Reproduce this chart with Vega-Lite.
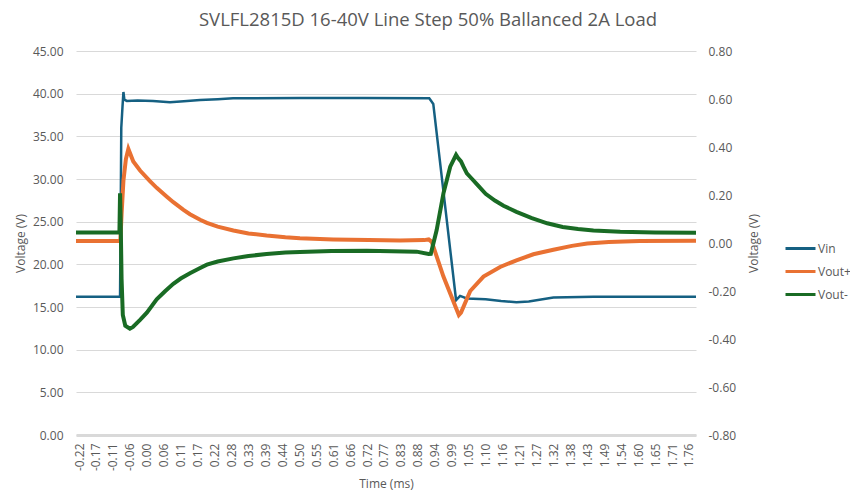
{
  "$schema": "https://vega.github.io/schema/vega-lite/v6.json",
  "autosize": "none",
  "width": 620,
  "height": 384,
  "padding": {"left": 76, "top": 51, "right": 154, "bottom": 57},
  "background": "white",
  "title": {
    "text": "SVLFL2815D 16-40V Line Step 50% Ballanced 2A Load",
    "anchor": "middle",
    "frame": "group",
    "dx": 42,
    "offset": 16,
    "font": "Open Sans",
    "fontSize": 18.5,
    "fontWeight": "normal",
    "color": "#595959"
  },
  "config": {
    "view": {"stroke": null},
    "font": "Open Sans",
    "locale": {
      "number": {"decimal": ".", "thousands": ",", "grouping": [3], "currency": ["$", ""], "minus": "-"}
    },
    "axis": {
      "labelColor": "#595959",
      "labelFont": "Open Sans",
      "labelFontSize": 12,
      "titleColor": "#595959",
      "titleFont": "Open Sans",
      "titleFontSize": 12,
      "titleFontWeight": "normal",
      "ticks": false,
      "domain": false
    },
    "legend": {
      "labelColor": "#595959",
      "labelFont": "Open Sans",
      "labelFontSize": 12
    }
  },
  "datasets": {
    "vin": [
      {"t": -0.23, "s": "Vin", "v": 16.2},
      {"t": -0.15, "s": "Vin", "v": 16.2},
      {"t": -0.087, "s": "Vin", "v": 16.2},
      {"t": -0.085, "s": "Vin", "v": 25},
      {"t": -0.083, "s": "Vin", "v": 36},
      {"t": -0.079, "s": "Vin", "v": 38.5},
      {"t": -0.076, "s": "Vin", "v": 40.2},
      {"t": -0.073, "s": "Vin", "v": 39.3},
      {"t": -0.065, "s": "Vin", "v": 39.15},
      {"t": -0.03, "s": "Vin", "v": 39.2},
      {"t": 0.02, "s": "Vin", "v": 39.15},
      {"t": 0.075, "s": "Vin", "v": 39.0},
      {"t": 0.12, "s": "Vin", "v": 39.1},
      {"t": 0.173, "s": "Vin", "v": 39.25},
      {"t": 0.23, "s": "Vin", "v": 39.35},
      {"t": 0.28, "s": "Vin", "v": 39.45},
      {"t": 0.5, "s": "Vin", "v": 39.48},
      {"t": 0.7, "s": "Vin", "v": 39.48},
      {"t": 0.917, "s": "Vin", "v": 39.45},
      {"t": 0.93, "s": "Vin", "v": 38.8},
      {"t": 1.004, "s": "Vin", "v": 15.8},
      {"t": 1.017, "s": "Vin", "v": 16.3},
      {"t": 1.039, "s": "Vin", "v": 16.0},
      {"t": 1.1, "s": "Vin", "v": 15.9},
      {"t": 1.15, "s": "Vin", "v": 15.7},
      {"t": 1.2, "s": "Vin", "v": 15.55},
      {"t": 1.24, "s": "Vin", "v": 15.65},
      {"t": 1.32, "s": "Vin", "v": 16.1},
      {"t": 1.45, "s": "Vin", "v": 16.2},
      {"t": 1.783, "s": "Vin", "v": 16.2}
    ],
    "vout": [
      {"t": -0.23, "s": "Vout+", "v": 0.008},
      {"t": -0.086, "s": "Vout+", "v": 0.008},
      {"t": -0.082, "s": "Vout+", "v": 0.12},
      {"t": -0.076, "s": "Vout+", "v": 0.26},
      {"t": -0.068, "s": "Vout+", "v": 0.35},
      {"t": -0.06, "s": "Vout+", "v": 0.392},
      {"t": -0.044, "s": "Vout+", "v": 0.34},
      {"t": -0.022, "s": "Vout+", "v": 0.302},
      {"t": 0.01, "s": "Vout+", "v": 0.258},
      {"t": 0.032, "s": "Vout+", "v": 0.23},
      {"t": 0.065, "s": "Vout+", "v": 0.193},
      {"t": 0.086, "s": "Vout+", "v": 0.17},
      {"t": 0.119, "s": "Vout+", "v": 0.138},
      {"t": 0.14, "s": "Vout+", "v": 0.12},
      {"t": 0.173, "s": "Vout+", "v": 0.097},
      {"t": 0.195, "s": "Vout+", "v": 0.084},
      {"t": 0.23, "s": "Vout+", "v": 0.068},
      {"t": 0.281, "s": "Vout+", "v": 0.052},
      {"t": 0.33, "s": "Vout+", "v": 0.04},
      {"t": 0.389, "s": "Vout+", "v": 0.031},
      {"t": 0.45, "s": "Vout+", "v": 0.024},
      {"t": 0.497, "s": "Vout+", "v": 0.02},
      {"t": 0.605, "s": "Vout+", "v": 0.015},
      {"t": 0.72, "s": "Vout+", "v": 0.012},
      {"t": 0.822, "s": "Vout+", "v": 0.01},
      {"t": 0.9, "s": "Vout+", "v": 0.012},
      {"t": 0.915, "s": "Vout+", "v": 0.015},
      {"t": 0.925, "s": "Vout+", "v": 0.005},
      {"t": 0.963, "s": "Vout+", "v": -0.14},
      {"t": 1.013, "s": "Vout+", "v": -0.3},
      {"t": 1.02, "s": "Vout+", "v": -0.29},
      {"t": 1.05, "s": "Vout+", "v": -0.2},
      {"t": 1.093, "s": "Vout+", "v": -0.14},
      {"t": 1.147, "s": "Vout+", "v": -0.1},
      {"t": 1.2, "s": "Vout+", "v": -0.072},
      {"t": 1.255, "s": "Vout+", "v": -0.047},
      {"t": 1.32, "s": "Vout+", "v": -0.028},
      {"t": 1.38, "s": "Vout+", "v": -0.012},
      {"t": 1.43, "s": "Vout+", "v": -0.002},
      {"t": 1.5, "s": "Vout+", "v": 0.004},
      {"t": 1.6, "s": "Vout+", "v": 0.008},
      {"t": 1.783, "s": "Vout+", "v": 0.009},
      {"t": -0.23, "s": "Vout-", "v": 0.044},
      {"t": -0.089, "s": "Vout-", "v": 0.044},
      {"t": -0.087, "s": "Vout-", "v": 0.207},
      {"t": -0.085, "s": "Vout-", "v": 0.1},
      {"t": -0.082, "s": "Vout-", "v": -0.15},
      {"t": -0.078, "s": "Vout-", "v": -0.3},
      {"t": -0.07, "s": "Vout-", "v": -0.345},
      {"t": -0.055, "s": "Vout-", "v": -0.357},
      {"t": -0.045, "s": "Vout-", "v": -0.35},
      {"t": -0.022, "s": "Vout-", "v": -0.32},
      {"t": 0.0, "s": "Vout-", "v": -0.29},
      {"t": 0.032, "s": "Vout-", "v": -0.235},
      {"t": 0.06, "s": "Vout-", "v": -0.2},
      {"t": 0.086, "s": "Vout-", "v": -0.17},
      {"t": 0.11, "s": "Vout-", "v": -0.148},
      {"t": 0.14, "s": "Vout-", "v": -0.126},
      {"t": 0.173, "s": "Vout-", "v": -0.104},
      {"t": 0.195, "s": "Vout-", "v": -0.09},
      {"t": 0.23, "s": "Vout-", "v": -0.077},
      {"t": 0.281, "s": "Vout-", "v": -0.064},
      {"t": 0.33, "s": "Vout-", "v": -0.054},
      {"t": 0.389, "s": "Vout-", "v": -0.046},
      {"t": 0.45, "s": "Vout-", "v": -0.04},
      {"t": 0.497, "s": "Vout-", "v": -0.037},
      {"t": 0.6, "s": "Vout-", "v": -0.033},
      {"t": 0.714, "s": "Vout-", "v": -0.032},
      {"t": 0.876, "s": "Vout-", "v": -0.036},
      {"t": 0.915, "s": "Vout-", "v": -0.046},
      {"t": 0.922, "s": "Vout-", "v": -0.045},
      {"t": 0.941, "s": "Vout-", "v": 0.054},
      {"t": 0.963, "s": "Vout-", "v": 0.207},
      {"t": 0.985, "s": "Vout-", "v": 0.318},
      {"t": 1.004, "s": "Vout-", "v": 0.367},
      {"t": 1.01, "s": "Vout-", "v": 0.355},
      {"t": 1.02, "s": "Vout-", "v": 0.34},
      {"t": 1.028, "s": "Vout-", "v": 0.318},
      {"t": 1.039, "s": "Vout-", "v": 0.29},
      {"t": 1.05, "s": "Vout-", "v": 0.275},
      {"t": 1.075, "s": "Vout-", "v": 0.24},
      {"t": 1.1, "s": "Vout-", "v": 0.205},
      {"t": 1.13, "s": "Vout-", "v": 0.177},
      {"t": 1.158, "s": "Vout-", "v": 0.155},
      {"t": 1.2, "s": "Vout-", "v": 0.13},
      {"t": 1.25, "s": "Vout-", "v": 0.104},
      {"t": 1.3, "s": "Vout-", "v": 0.082},
      {"t": 1.35, "s": "Vout-", "v": 0.067},
      {"t": 1.4, "s": "Vout-", "v": 0.058},
      {"t": 1.45, "s": "Vout-", "v": 0.052},
      {"t": 1.537, "s": "Vout-", "v": 0.047},
      {"t": 1.65, "s": "Vout-", "v": 0.044},
      {"t": 1.783, "s": "Vout-", "v": 0.043}
    ]
  },
  "encoding": {
    "x": {
      "field": "t",
      "type": "quantitative",
      "scale": {"domain": [-0.23, 1.783], "nice": false, "zero": false},
      "axis": {
        "values": [-0.22, -0.1651, -0.11, -0.0551, 0, 0.0551, 0.11, 0.1651, 0.22, 0.2751, 0.33, 0.3851, 0.44, 0.4951, 0.55, 0.6051, 0.66, 0.7151, 0.77, 0.8251, 0.88, 0.9351, 0.99, 1.0451, 1.1, 1.1551, 1.21, 1.2651, 1.32, 1.3751, 1.43, 1.4851, 1.54, 1.5951, 1.65, 1.7051, 1.76],
        "format": ".2f",
        "labelAngle": -90,
        "labelAlign": "right",
        "labelBaseline": "middle",
        "labelPadding": 8,
        "labelOverlap": false,
        "labelBound": false,
        "labelFlush": false,
        "grid": false,
        "domain": true,
        "domainColor": "#D9D9D9",
        "domainWidth": 3,
        "title": "Time (ms)",
        "titleY": 48,
        "titleBaseline": "middle"
      }
    },
    "color": {
      "field": "s",
      "type": "nominal",
      "scale": {"domain": ["Vin", "Vout+", "Vout-"], "range": ["#156082", "#E97132", "#196B24"]},
      "legend": {
        "title": null,
        "orient": "none",
        "legendX": 708,
        "legendY": 181,
        "symbolType": "stroke",
        "symbolSize": 900,
        "symbolStrokeWidth": 3,
        "labelOffset": 1,
        "rowPadding": -1,
        "labelLimit": 60
      }
    }
  },
  "layer": [
    {
      "data": {"name": "vin"},
      "mark": {"type": "line", "strokeWidth": 2.5},
      "encoding": {
        "y": {
          "field": "v",
          "type": "quantitative",
          "scale": {"domain": [0, 45], "nice": false, "zero": false},
          "axis": {
            "orient": "left",
            "values": [0, 5, 10, 15, 20, 25, 30, 35, 40, 45],
            "format": ".2f",
            "grid": true,
            "gridColor": "#D9D9D9",
            "labelPadding": 13,
            "title": "Voltage (V)",
            "titleX": -56,
            "titleY": 192,
            "titleAngle": -90,
            "titleAlign": "center",
            "titleBaseline": "middle"
          }
        }
      }
    },
    {
      "data": {"name": "vout"},
      "mark": {"type": "line", "strokeWidth": 4},
      "encoding": {
        "y": {
          "field": "v",
          "type": "quantitative",
          "scale": {"domain": [-0.8, 0.8], "nice": false, "zero": false},
          "axis": {
            "orient": "right",
            "values": [-0.8, -0.6, -0.4, -0.2, 0, 0.2, 0.4, 0.6, 0.8],
            "format": ".2f",
            "grid": false,
            "labelPadding": 12,
            "title": "Voltage (V)",
            "titleX": 57,
            "titleY": 192,
            "titleAngle": -90,
            "titleAlign": "center",
            "titleBaseline": "middle"
          }
        }
      }
    }
  ],
  "resolve": {"scale": {"y": "independent"}}
}
